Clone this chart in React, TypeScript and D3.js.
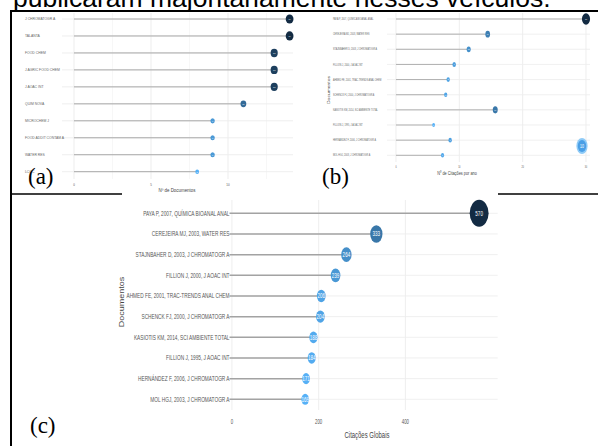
import React from "react";
import * as d3 from "d3";

// ---------- data ----------
const SOURCES = [
  "J CHROMATOGR A",
  "TALANTA",
  "FOOD CHEM",
  "J AGRIC FOOD CHEM",
  "J AOAC INT",
  "QUIM NOVA",
  "MICROCHEM J",
  "FOOD ADDIT CONTAM A",
  "WATER RES",
  "LCGC",
];
const SOURCE_DOCS = [14, 14, 13, 13, 13, 11, 9, 9, 9, 8];
const A_TICKS = [0, 5, 10];

const DOCS = [
  "PAYA P, 2007, QUÍMICA BIOANAL ANAL",
  "CEREJEIRA MJ, 2003, WATER RES",
  "STAJNBAHER D, 2003, J CHROMATOGR A",
  "FILLION J, 2000, J AOAC INT",
  "AHMED FE, 2001, TRAC-TRENDS ANAL CHEM",
  "SCHENCK FJ, 2000, J CHROMATOGR A",
  "KASIOTIS KM, 2014, SCI AMBIENTE TOTAL",
  "FILLION J, 1995, J AOAC INT",
  "HERNÁNDEZ F, 2006, J CHROMATOGR A",
  "MOL HGJ, 2003, J CHROMATOGR A",
];
const CITATIONS_PER_YEAR = [30.0, 14.48, 11.48, 9.19, 8.24, 7.85, 15.67, 5.94, 8.55, 7.35];
const B_TICKS = [0, 10, 20, 30];

const GLOBAL_CITATIONS = [570, 333, 264, 239, 206, 204, 188, 184, 171, 169];
const C_TICKS = [0, 200, 400];

const FONT = "'Liberation Sans', Arial, sans-serif";
const SERIF = "'Liberation Serif', 'Times New Roman', serif";

type PanelProps = {
  sx: number;
  labels: string[];
  values: number[];
  xDomain: [number, number];
  xRange: [number, number];
  yRange: [number, number];
  labelX: number;
  labelAnchor: "start" | "end";
  labelFont: number;
  labelColor: string;
  gridX: [number, number];
  gridY: [number, number];
  ticks: number[];
  minorTicks?: number[];
  tickY: number;
  tickFont: number;
  title: string;
  titleX: number;
  titleY: number;
  titleFont: number;
  yTitle?: string;
  yTitleX?: number;
  yTitleY?: number;
  yTitleFont?: number;
  rRange: [number, number];
  dotFont: number;
  segStart: number;
  segWidth: number;
  fmt: (v: number) => string;
};

function Lollipop(p: PanelProps) {
  const S = (v: number) => v / p.sx;
  const x = d3.scaleLinear().domain(p.xDomain).range([S(p.xRange[0]), S(p.xRange[1])]);
  const y = d3.scalePoint<string>().domain(p.labels).range(p.yRange);
  const ext = d3.extent(p.values) as [number, number];
  const r = d3.scaleLinear().domain(ext).range(p.rRange);
  const color = d3
    .scaleLinear<string>()
    .domain(ext)
    .range(["#56B1F7", "#132B43"])
    .interpolate(d3.interpolateLab);
  return (
    <g transform={`scale(${p.sx},1)`} fontFamily={FONT}>
      {(p.minorTicks || []).map((t) => (
        <line key={"m" + t} x1={x(t)} x2={x(t)} y1={p.gridY[0]} y2={p.gridY[1]} stroke="#f4f4f4" strokeWidth={0.8} />
      ))}
      {p.ticks.map((t) => (
        <line key={"v" + t} x1={x(t)} x2={x(t)} y1={p.gridY[0]} y2={p.gridY[1]} stroke="#ebebeb" strokeWidth={1} />
      ))}
      {p.labels.map((l) => (
        <line key={"h" + l} x1={S(p.gridX[0])} x2={S(p.gridX[1])} y1={y(l)} y2={y(l)} stroke="#ededed" strokeWidth={1} />
      ))}
      {p.labels.map((l, i) => (
        <line
          key={"s" + l}
          x1={S(p.segStart)}
          x2={x(p.values[i])}
          y1={y(l)}
          y2={y(l)}
          stroke="#a3a3a3"
          strokeWidth={p.segWidth}
        />
      ))}
      {p.labels.map((l) => (
        <text
          key={"t" + l}
          x={S(p.labelX)}
          y={y(l)}
          dy="0.35em"
          textAnchor={p.labelAnchor}
          fontSize={p.labelFont}
          fill={p.labelColor}
        >
          {l}
        </text>
      ))}
      {p.labels.map((l, i) => (
        <g key={"d" + l}>
          <circle cx={x(p.values[i])} cy={y(l)} r={r(p.values[i])} fill={color(p.values[i])} />
          <text
            x={x(p.values[i])}
            y={y(l)}
            dy="0.35em"
            textAnchor="middle"
            fontSize={p.dotFont}
            fill="#ffffff"
          >
            {p.fmt(p.values[i])}
          </text>
        </g>
      ))}
      {p.ticks.map((t) => (
        <text key={"k" + t} x={x(t)} y={p.tickY} textAnchor="middle" fontSize={p.tickFont} fill="#555">
          {t}
        </text>
      ))}
      <text x={S(p.titleX)} y={p.titleY} textAnchor="middle" fontSize={p.titleFont} fill="#444">
        {p.title}
      </text>
      {p.yTitle && (
        <text
          transform={`translate(${S(p.yTitleX as number)},${p.yTitleY}) rotate(-90)`}
          textAnchor="middle"
          fontSize={p.yTitleFont}
          fill="#444"
        >
          {p.yTitle}
        </text>
      )}
    </g>
  );
}

export default function App() {
  return (
    <svg
      width={598}
      height={446}
      style={{ position: "absolute", left: 0, top: 0, display: "block", background: "#fff" }}
    >
      <rect x={0} y={0} width={598} height={446} fill="#fff" />
      <text x={13} y={7} fontFamily={FONT} fontSize={26.5} fill="#000">
        publicaram majoritariamente nesses veículos.
      </text>
      <rect x={10} y={10} width={588} height={4} fill="#fff" />
      {/* table borders */}
      <line x1={10} x2={598} y1={11} y2={11} stroke="#000" strokeWidth={2} />
      <line x1={11} x2={11} y1={10} y2={446} stroke="#000" strokeWidth={2} />
      <line x1={10} x2={598} y1={194} y2={194} stroke="#000" strokeWidth={1.5} />

      {/* (a) */}
      <Lollipop
        sx={0.85}
        labels={SOURCES}
        values={SOURCE_DOCS}
        xDomain={[0, 14]}
        xRange={[74, 289.6]}
        yRange={[19, 171.7]}
        labelX={25}
        labelAnchor="start"
        labelFont={4}
        labelColor="#666"
        gridX={[62, 293]}
        gridY={[13, 179]}
        ticks={A_TICKS}
        minorTicks={[2.5, 7.5, 12.5]}
        tickY={186}
        tickFont={3.5}
        title="Nº de Documentos"
        titleX={177}
        titleY={192.5}
        titleFont={5.2}
        rRange={[2.2, 4.6]}
        dotFont={2.5}
        segStart={74}
        segWidth={1}
        fmt={(v) => String(v)}
      />

      {/* (b) */}
      <Lollipop
        sx={0.7}
        labels={DOCS}
        values={CITATIONS_PER_YEAR}
        xDomain={[0, 30]}
        xRange={[396, 586]}
        yRange={[19, 155.3]}
        labelX={333}
        labelAnchor="start"
        labelFont={3.2}
        labelColor="#666"
        gridX={[387, 590]}
        gridY={[13, 162]}
        ticks={B_TICKS}
        tickY={168}
        tickFont={3}
        title="Nº de Citações por ano"
        titleX={457}
        titleY={175}
        titleFont={5.5}
        yTitle="Documentos"
        yTitleX={330}
        yTitleY={90}
        yTitleFont={5}
        rRange={[2, 5.8]}
        dotFont={2.5}
        segStart={396}
        segWidth={1}
        fmt={(v) => String(Math.round(v))}
      />
      <g transform="scale(0.7,1)">
        <circle cx={582 / 0.7} cy={146} r={8} fill="#8fcbf7" />
        <circle cx={582 / 0.7} cy={146} r={6} fill="#4a9fe6" />
        <text x={582 / 0.7} y={146} dy="0.35em" textAnchor="middle" fontSize={5} fill="#fff" fontFamily={FONT}>
          10
        </text>
      </g>

      {/* (c) */}
      <rect x={122} y={193} width={376} height={253} fill="#fff" />
      <Lollipop
        sx={0.7}
        labels={DOCS}
        values={GLOBAL_CITATIONS}
        xDomain={[0, 400]}
        xRange={[231.9, 405.4]}
        yRange={[213.3, 399.3]}
        labelX={229.5}
        labelAnchor="end"
        labelFont={6.8}
        labelColor="#555"
        gridX={[230, 497.7]}
        gridY={[200, 410]}
        ticks={C_TICKS}
        tickY={424}
        tickFont={6.3}
        title="Citações Globais"
        titleX={367}
        titleY={438}
        titleFont={8.5}
        yTitle="Documentos"
        yTitleX={124}
        yTitleY={302}
        yTitleFont={9}
        rRange={[5.5, 13.5]}
        dotFont={6.5}
        segStart={229.5}
        segWidth={1.5}
        fmt={(v) => String(v)}
      />

      {/* panel letters */}
      <text x={28} y={184} fontFamily={SERIF} fontSize={23} fill="#000">(a)</text>
      <text x={322} y={184} fontFamily={SERIF} fontSize={23} fill="#000">(b)</text>
      <text x={30} y={433} fontFamily={SERIF} fontSize={23} fill="#000">(c)</text>
    </svg>
  );
}
